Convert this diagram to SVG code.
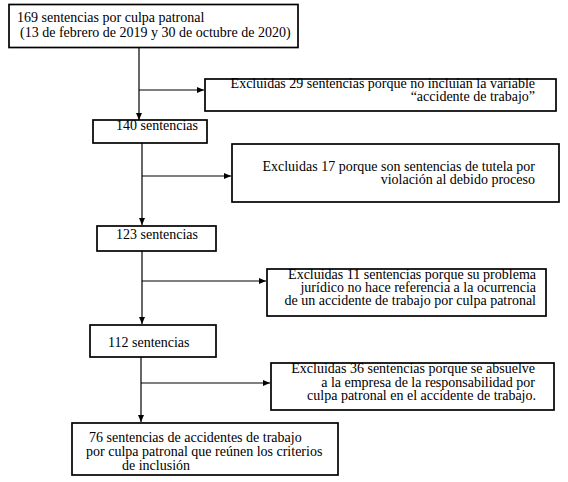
<svg xmlns="http://www.w3.org/2000/svg" width="568" height="482" viewBox="0 0 568 482">
<style>
.box{fill:#fff;stroke:#000;stroke-width:1.7}
.t{font-family:"Liberation Serif","Times New Roman",serif;font-size:14px;fill:#000}
.r{text-anchor:end}
.c{fill:none;stroke:#000;stroke-width:1.2}
</style>
<defs>
<marker id="ah" markerUnits="userSpaceOnUse" markerWidth="8" markerHeight="8" viewBox="0 0 8 8" refX="7" refY="4" orient="auto">
<path d="M0,1 L7,4 L0,7 Z" fill="#000"/>
</marker>
</defs>
<rect width="568" height="482" fill="#fff"/>
<g id="connectors">
<line class="c" x1="139" y1="48" x2="139" y2="120" marker-end="url(#ah)"/>
<line class="c" x1="139" y1="90" x2="204" y2="90" marker-end="url(#ah)"/>
<line class="c" x1="142" y1="143" x2="142" y2="225" marker-end="url(#ah)"/>
<line class="c" x1="142" y1="176" x2="231" y2="176" marker-end="url(#ah)"/>
<line class="c" x1="142" y1="251" x2="142" y2="324" marker-end="url(#ah)"/>
<line class="c" x1="142" y1="281" x2="266" y2="281" marker-end="url(#ah)"/>
<line class="c" x1="141" y1="357" x2="141" y2="422" marker-end="url(#ah)"/>
<line class="c" x1="141" y1="383" x2="270" y2="383" marker-end="url(#ah)"/>
</g>
<g id="n169">
<rect class="box" x="9" y="4.5" width="289" height="43"/>
<text class="t" x="17" y="22">169 sentencias por culpa patronal</text>
<text class="t" x="20" y="37">(13 de febrero de 2019 y 30 de octubre de 2020)</text>
</g>
<g id="ex29">
<rect class="box" x="205" y="79" width="351" height="32"/>
<text class="t r" x="535" y="88">Excluidas 29 sentencias porque no incluían la variable</text>
<text class="t r" x="535" y="101">“accidente de trabajo”</text>
</g>
<g id="n140">
<rect class="box" x="93" y="120" width="114" height="23"/>
<text class="t" x="116" y="129.5">140 sentencias</text>
</g>
<g id="ex17">
<rect class="box" x="232" y="144" width="327" height="58"/>
<text class="t r" x="535" y="170.5">Excluidas 17 porque son sentencias de tutela por</text>
<text class="t r" x="535" y="184">violación al debido proceso</text>
</g>
<g id="n123">
<rect class="box" x="97" y="226" width="119" height="25"/>
<text class="t" x="116" y="238.5">123 sentencias</text>
</g>
<g id="ex11">
<rect class="box" x="267" y="269" width="279" height="47"/>
<text class="t r" x="536" y="279">Excluidas 11 sentencias porque su problema</text>
<text class="t r" x="536" y="292">jurídico no hace referencia a la ocurrencia</text>
<text class="t r" x="536" y="305">de un accidente de trabajo por culpa patronal</text>
</g>
<g id="n112">
<rect class="box" x="90" y="325" width="126" height="32"/>
<text class="t" x="108" y="347">112 sentencias</text>
</g>
<g id="ex36">
<rect class="box" x="271" y="363" width="283" height="47"/>
<text class="t r" x="535" y="373">Excluidas 36 sentencias porque se absuelve</text>
<text class="t r" x="535" y="387">a la empresa de la responsabilidad por</text>
<text class="t r" x="536" y="400">culpa patronal en el accidente de trabajo.</text>
</g>
<g id="n76">
<rect class="box" x="72" y="423" width="266" height="52"/>
<text class="t" x="89" y="442">76 sentencias de accidentes de trabajo</text>
<text class="t" x="86" y="456">por culpa patronal que reúnen los criterios</text>
<text class="t" x="122" y="470">de inclusión</text>
</g>
</svg>
